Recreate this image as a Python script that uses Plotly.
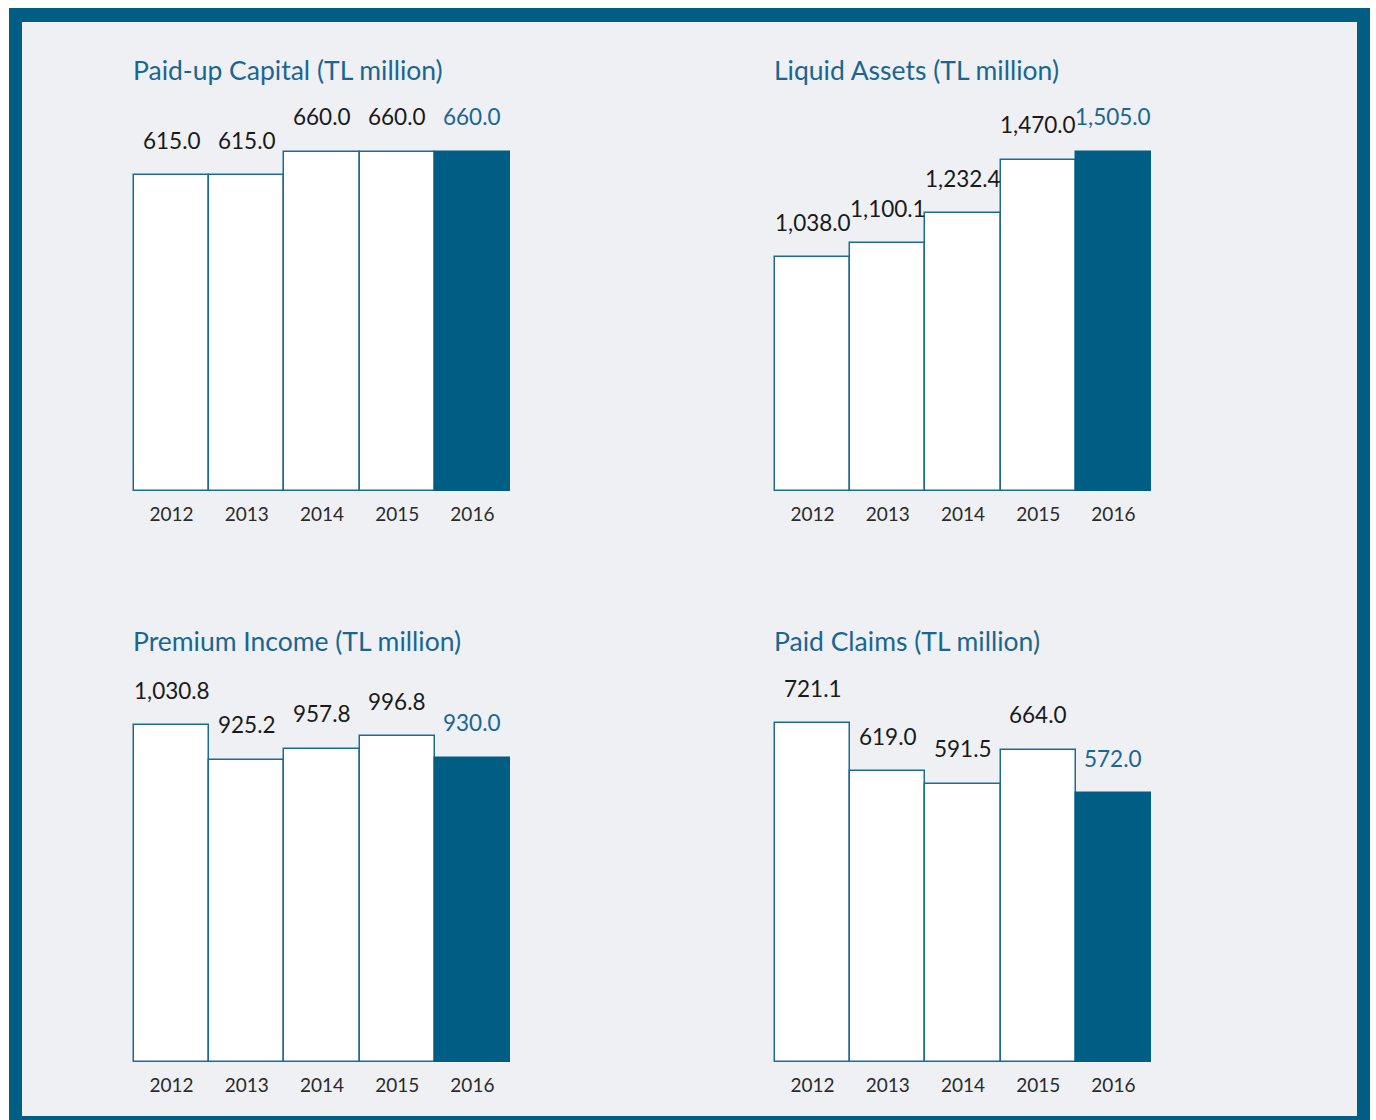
import plotly.graph_objects as go

W, H = 1376, 1120

years = ["2012", "2013", "2014", "2015", "2016"]
titles = ["Paid-up Capital (TL million)", "Liquid Assets (TL million)",
          "Premium Income (TL million)", "Paid Claims (TL million)"]
paid_up_capital = [615.0, 615.0, 660.0, 660.0, 660.0]
liquid_assets = [1038.0, 1100.1, 1232.4, 1470.0, 1505.0]
premium_income = [1030.8, 925.2, 957.8, 996.8, 930.0]
paid_claims = [721.1, 619.0, 591.5, 664.0, 572.0]
series = [paid_up_capital, liquid_assets, premium_income, paid_claims]

DARK = "#005e85"
LINE = "#1c6b91"
TITLE = "#1a6690"
TEXT = "#1a1a1a"
BG = "#eef0f4"
FONT = "Lato"

# layout: pixel boxes (left, right, top, bottom)
boxes = [(134, 510, 152, 491), (775, 1151, 152, 491),
         (134, 510, 723, 1062), (775, 1151, 723, 1062)]
range_scale = [1.0, 1.0, 1.006, 1.0]
PAD = 4  # px padding so bar outlines at the edges are not clipped

fig = go.Figure()
annotations = []
axes = {}
for i, (vals, title, box) in enumerate(zip(series, titles, boxes)):
    n = i + 1
    sfx = "" if n == 1 else str(n)
    xa, ya = "x" + sfx, "y" + sfx
    colors = ["white"] * (len(vals) - 1) + [DARK]
    lcolors = [LINE] * (len(vals) - 1) + [DARK]
    fig.add_trace(go.Bar(x=years, y=vals, xaxis=xa, yaxis=ya, width=1,
                         marker=dict(color=colors, line=dict(color=lcolors, width=1.5)),
                         cliponaxis=False, showlegend=False, hoverinfo="skip"))
    l, r, t, b = box
    xs = (r - l) / len(years)          # px per category
    ytop = max(vals) * range_scale[i]
    ys = (b - t) / ytop                # px per unit
    axes["xaxis" + sfx] = dict(
        type="category", categoryorder="array", categoryarray=years,
        range=[-0.5 - PAD / xs, len(years) - 0.5 + PAD / xs], autorange=False,
        domain=[(l - PAD) / W, (r + PAD) / W], anchor=ya, showgrid=False, zeroline=False,
        showline=False, ticks="", tickfont=dict(family=FONT, size=19, color="#2a2a2a"),
        ticklabelstandoff=6, fixedrange=True, automargin=False)
    axes["yaxis" + sfx] = dict(
        domain=[1 - (b + PAD) / H, 1 - (t - PAD) / H], anchor=xa,
        range=[-PAD / ys, ytop + PAD / ys], autorange=False,
        visible=False, fixedrange=True, automargin=False)
    for j, (yr, v) in enumerate(zip(years, vals)):
        annotations.append(dict(
            x=j, y=v, xref=xa, yref=ya, text=f"{v:,.1f}", showarrow=False,
            yshift=35, yanchor="middle",
            font=dict(family=FONT, size=22.5, color=TITLE if j == len(vals) - 1 else TEXT)))
    annotations.append(dict(
        x=(l - 3) / W, y=1 - (t - 82) / H, xref="paper", yref="paper", text=title,
        showarrow=False, xanchor="left", yanchor="middle",
        font=dict(family=FONT, size=26.5, color=TITLE)))

shapes = [
    dict(type="rect", xref="paper", yref="paper", x0=9 / W, x1=1370 / W,
         y0=0, y1=1 - 8 / H, fillcolor=DARK, line=dict(width=0), layer="below"),
    dict(type="rect", xref="paper", yref="paper", x0=22 / W, x1=1357 / W,
         y0=1 - 1116 / H, y1=1 - 22 / H, fillcolor=BG, line=dict(width=0), layer="below"),
]

fig.update_layout(width=W, height=H, margin=dict(l=0, r=0, t=0, b=0, autoexpand=False),
                  paper_bgcolor="white", plot_bgcolor="rgba(0,0,0,0)",
                  bargap=0, annotations=annotations, shapes=shapes,
                  font=dict(family=FONT), **axes)

fig.write_html("out.html", config={"displayModeBar": False})
